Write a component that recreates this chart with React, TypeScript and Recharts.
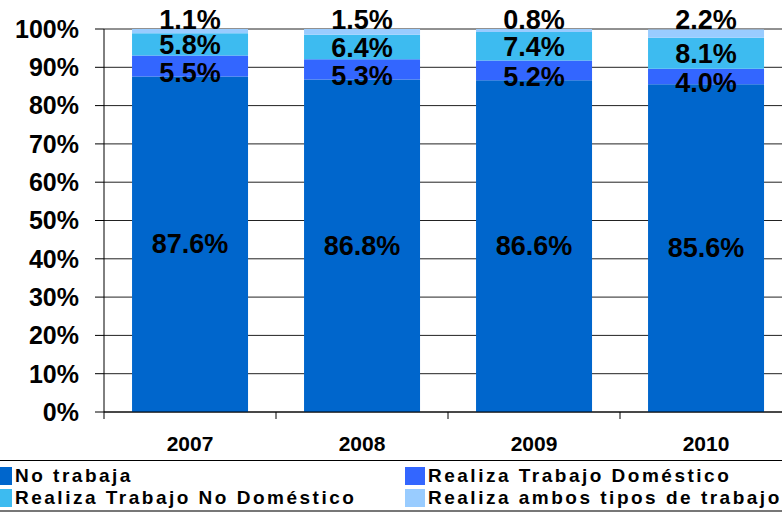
import { BarChart, Bar, XAxis, YAxis, CartesianGrid, LabelList } from 'recharts';

const YEARS = ['2007', '2008', '2009', '2010'];
const NO_TRABAJA = [87.6, 86.8, 86.6, 85.6];
const DOMESTICO = [5.5, 5.3, 5.2, 4.0];
const NO_DOMESTICO = [5.8, 6.4, 7.4, 8.1];
const AMBOS = [1.1, 1.5, 0.8, 2.2];
const Y_TICKS = [0, 10, 20, 30, 40, 50, 60, 70, 80, 90, 100];

const SERIES = [
    { key: 'noTrabaja', name: 'No trabaja', color: '#0066CC' },
    { key: 'domestico', name: 'Realiza Trabajo Doméstico', color: '#3366FF' },
    { key: 'noDomestico', name: 'Realiza Trabajo No Doméstico', color: '#3DBBF0' },
    { key: 'ambos', name: 'Realiza ambos tipos de trabajo', color: '#99CCFF' },
];

const data = YEARS.map((year, i) => ({
    year,
    noTrabaja: NO_TRABAJA[i],
    domestico: DOMESTICO[i],
    noDomestico: NO_DOMESTICO[i],
    ambos: AMBOS[i],
}));

const FONT = '"Liberation Sans", Arial, sans-serif';
const CHART_W = 792;
const CHART_H = 516;
const Y_W = 104;
const HALF_BAND = (CHART_W - Y_W) / YEARS.length / 2;

// value labels: 'center' = middle of the segment (+dy), 'above' = above the segment top
function makeLabel(mode: 'center' | 'above', dy: number) {
    // eslint-disable-next-line @typescript-eslint/no-explicit-any
    return (props: any) => {
        const { x, y, width, height, value } = props;
        const cx = Number(x) + Number(width) / 2;
        const cy = mode === 'center' ? Number(y) + Number(height) / 2 + dy : Number(y) + dy;
        return (
            <text x={cx} y={cy} textAnchor="middle" dominantBaseline="central"
                fontFamily={FONT} fontSize={27} fontWeight={700} fill="#000">
                {`${Number(value).toFixed(1)}%`}
            </text>
        );
    };
}

// eslint-disable-next-line @typescript-eslint/no-explicit-any
function YearTick(props: any) {
    const { x, y, payload } = props;
    const left = x - HALF_BAND;
    return (
        <g>
            <line x1={left} y1={y} x2={left} y2={y + 7} stroke="#000" strokeWidth={1} />
            <text x={x} y={y + 39} textAnchor="middle" fontFamily={FONT} fontSize={21} fontWeight={700} fill="#000">
                {payload.value}
            </text>
        </g>
    );
}

export default function App() {
    return (
        <div style={{ position: 'absolute', left: 0, top: 0, width: 782, height: 516, overflow: 'hidden', background: '#fff' }}>
            <BarChart width={CHART_W} height={CHART_H} data={data}
                margin={{ top: 29, right: 0, bottom: 54, left: 0 }} barCategoryGap="16.3%">
                <CartesianGrid vertical={false} stroke="#222" strokeWidth={1} />
                <XAxis dataKey="year" interval={0} height={50} tickLine={false} tickSize={0} tickMargin={0}
                    axisLine={{ stroke: '#000' }} tick={<YearTick />} />
                <YAxis width={Y_W} domain={[0, 100]} ticks={Y_TICKS} tickFormatter={(v) => `${v}%`}
                    tickSize={9} tickMargin={16} axisLine={{ stroke: '#000' }} tickLine={{ stroke: '#000' }}
                    tick={{ fontFamily: FONT, fontSize: 25, fontWeight: 700, fill: '#000' }} />
                <Bar dataKey="noTrabaja" stackId="a" fill={SERIES[0].color} isAnimationActive={false}>
                    <LabelList dataKey="noTrabaja" content={makeLabel('center', 0)} />
                </Bar>
                <Bar dataKey="domestico" stackId="a" fill={SERIES[1].color} isAnimationActive={false}>
                    <LabelList dataKey="domestico" content={makeLabel('center', 7)} />
                </Bar>
                <Bar dataKey="noDomestico" stackId="a" fill={SERIES[2].color} isAnimationActive={false}>
                    <LabelList dataKey="noDomestico" content={makeLabel('center', 1)} />
                </Bar>
                <Bar dataKey="ambos" stackId="a" fill={SERIES[3].color} isAnimationActive={false}>
                    <LabelList dataKey="ambos" content={makeLabel('above', -9)} />
                </Bar>
            </BarChart>

            {/* legend, two columns */}
            <div style={{
                position: 'absolute', left: 0, top: 460, width: 782, height: 52,
                borderTop: '1px solid #000', borderBottom: '2px solid #777', boxSizing: 'border-box',
            }}>
                {SERIES.map((s, i) => {
                    const col = i % 2;
                    const row = Math.floor(i / 2);
                    return (
                        <div key={s.key} style={{
                            position: 'absolute', left: col === 0 ? -8 : 405, top: 6 + row * 22,
                            display: 'flex', alignItems: 'center', whiteSpace: 'nowrap',
                        }}>
                            <span style={{ display: 'inline-block', width: 20, height: 18, background: s.color }} />
                            <span style={{
                                marginLeft: 3, fontFamily: FONT, fontSize: 19, fontWeight: 700,
                                letterSpacing: 2.5, color: '#000', lineHeight: '18px',
                            }}>{s.name}</span>
                        </div>
                    );
                })}
            </div>
        </div>
    );
}
